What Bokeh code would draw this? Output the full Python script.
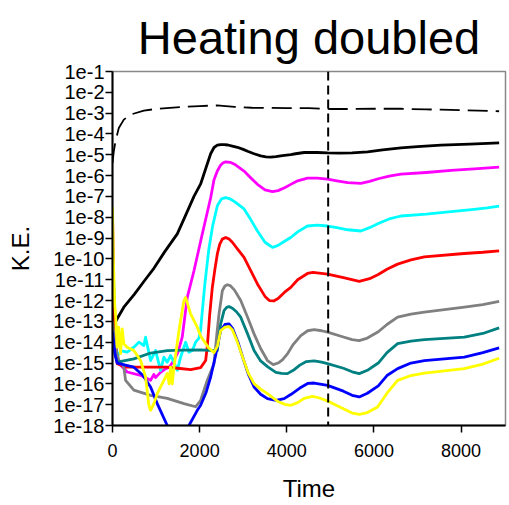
from bokeh.plotting import figure
from bokeh.models import Range1d, FixedTicker, CustomJSTickFormatter, Span
from bokeh.embed import file_html
from bokeh.resources import INLINE

# ---- data (time, log10 of kinetic energy) ----
total_t = [0, 30, 69, 145, 260, 414, 720, 1027, 1600, 2000, 2400, 2800, 3200, 3600, 4000, 4500, 5000, 5500, 6000, 6620, 7200, 7540, 8000, 8400, 8874]
total_e = [-5.4, -4.83, -4.35, -3.71, -3.31, -3.07, -2.88, -2.79, -2.7, -2.66, -2.63, -2.7, -2.74, -2.75, -2.76, -2.76, -2.8, -2.8, -2.79, -2.79, -2.82, -2.83, -2.86, -2.88, -2.91]

black_t = [0, 100, 260, 500, 750, 950, 1200, 1487, 1700, 1870, 2023, 2150, 2253, 2330, 2406, 2483, 2560, 2650, 2750, 2866, 3000, 3100, 3249, 3400, 3520, 3632, 3750, 3900, 4092, 4200, 4400, 4700, 4935, 5200, 5500, 5855, 6200, 6620, 7000, 7540, 8200, 8874]
black_e = [-13.3, -12.9, -12.32, -11.7, -11.0, -10.45, -9.65, -8.8, -7.8, -7.0, -6.4, -5.6, -4.95, -4.65, -4.54, -4.51, -4.51, -4.53, -4.58, -4.64, -4.74, -4.83, -4.95, -5.05, -5.1, -5.11, -5.09, -5.04, -4.99, -4.95, -4.89, -4.89, -4.91, -4.92, -4.91, -4.86, -4.76, -4.67, -4.61, -4.54, -4.49, -4.43]

magenta_t = [0, 40, 100, 337, 644, 874, 950, 989, 1100, 1200, 1300, 1400, 1500, 1600, 1716, 1870, 2050, 2253, 2330, 2406, 2480, 2540, 2598, 2700, 2800, 2900, 3019, 3170, 3326, 3500, 3671, 3800, 3950, 4092, 4250, 4475, 4700, 4935, 5150, 5400, 5700, 5900, 6100, 6350, 6620, 7200, 7770, 8300, 8874]
magenta_e = [-10.0, -13.0, -14.9, -15.43, -15.59, -15.83, -15.55, -15.7, -15.45, -15.3, -15.2, -14.9, -14.5, -13.76, -11.85, -10.57, -8.9, -7.06, -6.2, -5.78, -5.5, -5.38, -5.34, -5.36, -5.45, -5.6, -5.78, -6.1, -6.42, -6.68, -6.77, -6.72, -6.58, -6.42, -6.25, -6.12, -6.12, -6.17, -6.25, -6.34, -6.37, -6.28, -6.15, -6.02, -5.93, -5.85, -5.75, -5.68, -5.59]

cyan_t = [0, 69, 107, 184, 337, 490, 605, 720, 759, 874, 989, 1103, 1180, 1257, 1333, 1410, 1487, 1563, 1678, 1755, 1832, 1908, 1985, 2023, 2062, 2120, 2207, 2300, 2406, 2500, 2598, 2700, 2800, 3019, 3170, 3326, 3500, 3671, 3800, 3950, 4092, 4250, 4475, 4700, 4935, 5150, 5400, 5700, 5900, 6100, 6350, 6620, 7200, 7770, 8300, 8600, 8874]
cyan_e = [-9.2, -13.92, -14.72, -14.4, -14.48, -14.24, -14.0, -14.16, -13.76, -14.88, -14.4, -15.35, -14.72, -14.96, -14.64, -14.96, -15.35, -14.72, -14.0, -14.48, -14.4, -14.0, -13.8, -13.4, -12.5, -11.2, -9.6, -8.4, -7.45, -7.12, -7.06, -7.12, -7.25, -7.6, -8.1, -8.66, -9.2, -9.45, -9.35, -9.15, -8.97, -8.7, -8.42, -8.38, -8.42, -8.5, -8.6, -8.66, -8.5, -8.3, -8.08, -7.94, -7.85, -7.73, -7.62, -7.55, -7.46]

red_t = [0, 40, 108, 300, 600, 900, 1257, 1500, 1793, 2023, 2138, 2176, 2230, 2291, 2350, 2406, 2460, 2520, 2598, 2680, 2750, 2880, 3019, 3170, 3326, 3500, 3600, 3700, 3800, 3950, 4092, 4250, 4475, 4600, 4935, 5300, 5663, 5900, 6100, 6300, 6544, 6850, 7157, 8072, 8500, 8874]
red_e = [-7.8, -13.0, -15.03, -15.2, -15.2, -15.2, -15.2, -15.25, -15.32, -15.22, -14.88, -14.2, -12.7, -11.37, -10.5, -9.76, -9.3, -9.05, -8.97, -9.05, -9.2, -9.55, -9.93, -10.55, -11.2, -11.8, -12.0, -12.02, -11.9, -11.6, -11.37, -11.0, -10.7, -10.65, -10.73, -10.9, -11.08, -10.95, -10.75, -10.5, -10.25, -10.05, -9.9, -9.74, -9.68, -9.61]

gray_t = [0, 60, 150, 240, 260, 300, 490, 874, 1257, 1640, 1908, 2023, 2176, 2330, 2400, 2445, 2521, 2580, 2636, 2700, 2800, 2943, 3100, 3249, 3400, 3556, 3690, 3800, 3900, 4015, 4150, 4322, 4480, 4628, 4800, 4935, 5300, 5500, 5663, 5850, 6100, 6300, 6544, 6850, 7157, 8076, 8500, 8874]
gray_e = [-13.0, -14.2, -14.9, -15.1, -15.2, -15.83, -16.3, -16.55, -16.7, -16.95, -17.1, -16.79, -15.83, -15.03, -13.5, -12.64, -11.53, -11.3, -11.24, -11.28, -11.5, -12.0, -12.8, -13.6, -14.3, -14.88, -15.08, -15.0, -14.85, -14.56, -14.1, -13.68, -13.45, -13.4, -13.45, -13.52, -13.75, -13.88, -13.92, -13.8, -13.5, -13.15, -12.8, -12.65, -12.56, -12.32, -12.2, -12.04]

teal_t = [0, 60, 107, 490, 874, 1257, 1640, 2023, 2330, 2406, 2450, 2483, 2560, 2620, 2674, 2760, 2850, 2943, 3100, 3249, 3400, 3556, 3750, 3880, 4015, 4150, 4300, 4450, 4628, 4800, 4935, 5300, 5500, 5663, 5850, 6100, 6300, 6544, 6850, 7157, 8076, 8500, 8874]
teal_e = [-13.8, -14.6, -14.96, -14.8, -14.52, -14.4, -14.38, -14.37, -14.4, -14.4, -13.6, -13.12, -12.48, -12.33, -12.29, -12.38, -12.55, -12.8, -13.6, -14.4, -14.9, -15.17, -15.45, -15.5, -15.51, -15.35, -15.1, -14.93, -14.9, -14.96, -15.03, -15.25, -15.42, -15.51, -15.35, -15.0, -14.5, -14.07, -13.95, -13.88, -13.76, -13.58, -13.31]

blue_t = [0, 60, 107, 490, 700, 874, 1027, 1257, 1480, 1755, 1946, 2023, 2150, 2253, 2370, 2483, 2580, 2674, 2760, 2880, 3000, 3120, 3249, 3400, 3556, 3750, 3939, 4100, 4300, 4480, 4628, 4800, 4935, 5300, 5500, 5663, 5850, 6100, 6300, 6544, 6850, 7157, 8076, 8500, 8874]
blue_e = [-13.5, -14.6, -15.0, -15.2, -15.6, -16.15, -16.95, -18.0, -19.2, -18.0, -17.27, -17.03, -16.4, -15.67, -14.6, -13.44, -13.15, -13.12, -13.35, -14.0, -14.8, -15.55, -16.15, -16.5, -16.71, -16.79, -16.71, -16.5, -16.2, -15.98, -15.96, -16.02, -16.07, -16.35, -16.55, -16.63, -16.45, -16.1, -15.6, -15.27, -15.0, -14.88, -14.72, -14.5, -14.27]

yellow_t = [0, 20, 50, 69, 107, 140, 184, 222, 260, 337, 490, 644, 759, 835, 874, 950, 1027, 1103, 1180, 1260, 1300, 1333, 1372, 1410, 1450, 1525, 1640, 1678, 1793, 1946, 2023, 2200, 2330, 2406, 2483, 2580, 2674, 2750, 2850, 3000, 3120, 3249, 3400, 3556, 3800, 3950, 4092, 4250, 4400, 4590, 4750, 4935, 5300, 5500, 5663, 5850, 6084, 6300, 6544, 6850, 7157, 8076, 8500, 8874]
yellow_e = [-7.5, -10.0, -12.2, -12.63, -14.24, -13.28, -14.55, -13.36, -14.08, -14.24, -14.4, -14.88, -15.67, -17.03, -17.27, -16.95, -16.47, -16.15, -15.83, -15.5, -16.0, -15.2, -16.0, -15.2, -14.6, -13.44, -12.0, -11.85, -12.64, -13.28, -13.7, -14.25, -14.5, -14.2, -13.44, -13.28, -13.25, -13.4, -13.9, -14.8, -15.5, -15.99, -16.25, -16.47, -16.85, -16.98, -17.03, -16.9, -16.7, -16.6, -16.68, -16.82, -17.2, -17.4, -17.46, -17.38, -17.11, -16.45, -15.83, -15.6, -15.48, -15.27, -15.05, -14.77]

title_text = "Heating doubled"
marker_time = 4950
y_decades = list(range(-18, 0))
x_ticks = [0, 2000, 4000, 6000, 8000]

series = [
    (black_t, black_e, "black"),
    (magenta_t, magenta_e, "#FF00FF"),
    (cyan_t, cyan_e, "#00FFFF"),
    (red_t, red_e, "#FF0000"),
    (gray_t, gray_e, "#808080"),
    (teal_t, teal_e, "#008080"),
    (blue_t, blue_e, "#0000FF"),
    (yellow_t, yellow_e, "#FFFF00"),
]

FONT = "Liberation Sans"
X_END = 9020

p = figure(width=509, height=505, output_backend="svg", toolbar_location=None,
           y_axis_type="log", x_range=Range1d(0, X_END), y_range=Range1d(1e-18, 1e-1),
           min_border_left=112, min_border_right=4, min_border_top=70, min_border_bottom=80)

p.line(total_t, [10 ** e for e in total_e], line_color="black", line_width=1.8, line_dash="20 8")
for t, e, c in series:
    p.line(t, [10 ** v for v in e], line_color=c, line_width=2.8, line_join="round")

p.add_layout(Span(location=marker_time, dimension="height", line_color="black",
                  line_width=2, line_dash="9 5"))

p.title.text = title_text
p.title.text_font = FONT
p.title.text_font_size = "47px"
p.title.text_font_style = "normal"
p.title.align = "center"
p.title.text_color = "black"
p.title.standoff = 16

p.grid.visible = False
p.outline_line_color = "#888888"
p.outline_line_width = 1.5
p.background_fill_color = "white"
p.border_fill_color = "white"

for ax in (p.xaxis[0], p.yaxis[0]):
    ax.axis_line_color = "black"
    ax.axis_line_width = 2
    ax.major_tick_line_color = "black"
    ax.major_tick_line_width = 1.5
    ax.major_tick_out = 7
    ax.major_tick_in = 0
    ax.minor_tick_line_color = None
    ax.major_label_text_font = FONT
    ax.major_label_text_color = "black"
    ax.axis_label_text_font = FONT
    ax.axis_label_text_font_size = "24px"
    ax.axis_label_text_font_style = "normal"
    ax.axis_label_text_color = "black"

p.xaxis[0].ticker = FixedTicker(ticks=x_ticks)
p.xaxis[0].major_label_text_font_size = "18px"
p.xaxis[0].major_label_standoff = 11
p.xaxis[0].axis_label = "Time"
p.xaxis[0].axis_label_standoff = 15

p.yaxis[0].ticker = FixedTicker(ticks=[10.0 ** d for d in y_decades])
p.yaxis[0].formatter = CustomJSTickFormatter(code="return '1e' + Math.round(Math.log10(tick));")
p.yaxis[0].major_label_text_font_size = "20px"
p.yaxis[0].major_label_standoff = 1
p.yaxis[0].axis_label = "K.E."
p.yaxis[0].axis_label_standoff = 16

open("out.html", "w").write(file_html(p, INLINE))
